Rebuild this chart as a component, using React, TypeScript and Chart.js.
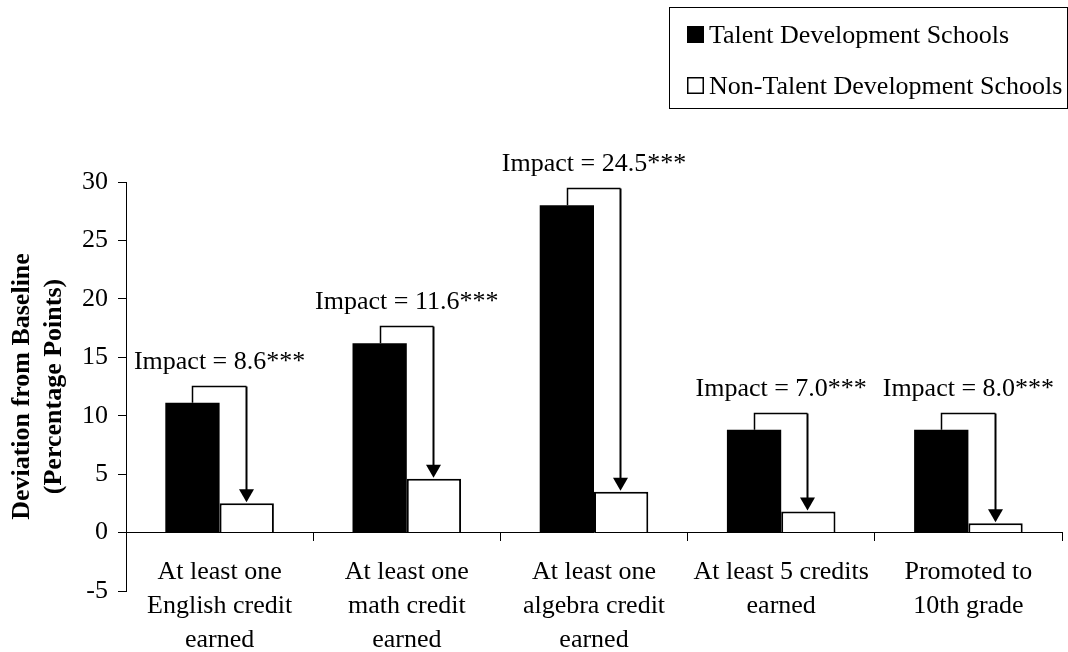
import React, { useEffect, useRef } from "react";
import { Chart, registerables } from "chart.js";

Chart.register(...registerables);

// ---- Data ----
const categories: string[][] = [
  ["At least one", "English credit", "earned"],
  ["At least one", "math credit", "earned"],
  ["At least one", "algebra credit", "earned"],
  ["At least 5 credits", "earned"],
  ["Promoted to", "10th grade"],
];
const seriesNames = ["Talent Development Schools", "Non-Talent Development Schools"];
const talentValues = [11.1, 16.2, 28.0, 8.8, 8.8];
const nonTalentValues = [2.5, 4.6, 3.5, 1.8, 0.8];
const impactLabels = ["8.6", "11.6", "24.5", "7.0", "8.0"];
const yMin = -5;
const yMax = 30;
const yStep = 5;
const yTitle = ["Deviation from Baseline", "(Percentage Points)"];

const FONT = "'Liberation Serif', 'Times New Roman', Times, serif";

const annotationPlugin = {
  id: "impactArrows",
  afterDatasetsDraw(chart: any) {
    const ctx = chart.ctx as CanvasRenderingContext2D;
    const m0 = chart.getDatasetMeta(0).data;
    const m1 = chart.getDatasetMeta(1).data;
    ctx.save();
    ctx.strokeStyle = "#000";
    ctx.fillStyle = "#000";
    m0.forEach((b0: any, i: number) => {
      const b1 = m1[i];
      const xL = Math.round(b0.x) + 0.5;
      const xR = Math.round(b1.x) - 0.5;
      const yTop = Math.round(b0.y - 17) + 0.5;
      const yTip = b1.y;
      ctx.lineWidth = 1.5;
      ctx.beginPath();
      ctx.moveTo(xL, b0.y);
      ctx.lineTo(xL, yTop);
      ctx.lineTo(xR, yTop);
      ctx.stroke();
      ctx.lineWidth = 2;
      ctx.beginPath();
      ctx.moveTo(xR, yTop);
      ctx.lineTo(xR, yTip - 12);
      ctx.stroke();
      ctx.beginPath();
      ctx.moveTo(xR - 7.5, yTip - 14);
      ctx.lineTo(xR + 7.5, yTip - 14);
      ctx.lineTo(xR, yTip - 1);
      ctx.closePath();
      ctx.fill();
      ctx.font = `26px ${FONT}`;
      ctx.textAlign = "center";
      ctx.textBaseline = "alphabetic";
      ctx.fillText(
        `Impact = ${impactLabels[i]}***`,
        chart.scales.x.getPixelForValue(i),
        yTop - 18
      );
    });
    ctx.restore();
  },
};

const legendPlugin = {
  id: "boxLegend",
  afterDraw(chart: any) {
    const ctx = chart.ctx as CanvasRenderingContext2D;
    ctx.save();
    ctx.strokeStyle = "#000";
    ctx.lineWidth = 1;
    ctx.strokeRect(669.5, 7.5, 398, 101);
    ctx.fillStyle = "#000";
    ctx.fillRect(687, 26, 17, 17);
    ctx.lineWidth = 1.5;
    ctx.strokeRect(687.75, 77.75, 15.5, 15.5);
    ctx.font = `26px ${FONT}`;
    ctx.textAlign = "left";
    ctx.textBaseline = "alphabetic";
    ctx.fillStyle = "#000";
    ctx.fillText(seriesNames[0], 709, 43);
    ctx.fillText(seriesNames[1], 709, 94);
    ctx.restore();
  },
};

export default function App() {
  const canvasRef = useRef<HTMLCanvasElement | null>(null);

  useEffect(() => {
    document.body.style.margin = "0";
    const canvas = canvasRef.current;
    if (!canvas) return;
    const chart = new Chart(canvas, {
      type: "bar",
      data: {
        labels: categories,
        datasets: [
          {
            label: seriesNames[0],
            data: talentValues,
            backgroundColor: "#000",
            borderColor: "#000",
            borderWidth: 0,
          },
          {
            label: seriesNames[1],
            data: nonTalentValues,
            backgroundColor: "#fff",
            borderColor: "#000",
            borderWidth: 2,
          },
        ],
      },
      options: {
        responsive: false,
        animation: false,
        devicePixelRatio: 1,
        layout: { padding: { left: 0, top: 182, right: 6, bottom: 61 } },
        datasets: {
          bar: { categoryPercentage: 0.58, barPercentage: 1 },
        },
        plugins: {
          legend: { display: false },
          tooltip: { enabled: false },
        },
        scales: {
          x: {
            type: "category",
            position: { y: 0 } as any,
            offset: true,
            grid: {
              display: true,
              offset: true,
              drawOnChartArea: false,
              drawTicks: true,
              tickLength: 8,
              color: "#000",
              lineWidth: 1,
            },
            border: { display: true, color: "#000", width: 1 },
            ticks: {
              font: { family: FONT, size: 26, lineHeight: 1.3 },
              color: "#000",
              padding: 15,
              maxRotation: 0,
              autoSkip: false,
            },
          },
          y: {
            min: yMin,
            max: yMax,
            ticks: {
              stepSize: yStep,
              font: { family: FONT, size: 26 },
              color: "#000",
              padding: 10,
            },
            grid: {
              drawOnChartArea: false,
              drawTicks: true,
              tickLength: 8,
              color: "#000",
            },
            border: { display: true, color: "#000", width: 1 },
            title: {
              display: true,
              text: yTitle,
              font: { family: FONT, size: 26, weight: "bold", lineHeight: 1.2 },
              color: "#000",
              padding: { top: 7, bottom: 0 },
            },
            afterFit: (scale: any) => {
              scale.width = 126;
            },
          },
        },
      } as any,
      plugins: [annotationPlugin, legendPlugin],
    });
    return () => chart.destroy();
  }, []);

  return (
    <div style={{ width: 1068, height: 652, background: "#fff" }}>
      <canvas ref={canvasRef} width={1068} height={652} style={{ display: "block" }} />
    </div>
  );
}
